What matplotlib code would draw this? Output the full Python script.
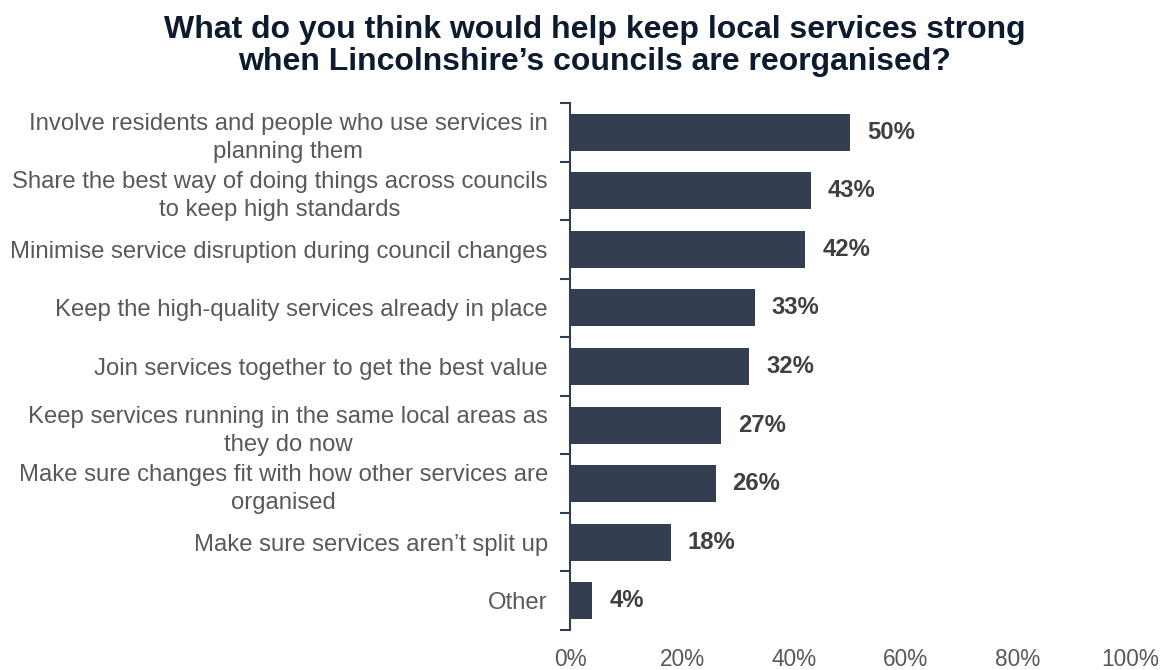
import matplotlib
matplotlib.use("Agg")
import matplotlib.pyplot as plt
import numpy as np

plt.rcParams['font.family'] = ['Liberation Sans', 'DejaVu Sans']

categories = [
    "Involve residents and people who use services in\nplanning them",
    "Share the best way of doing things across councils\nto keep high standards",
    "Minimise service disruption during council changes",
    "Keep the high-quality services already in place",
    "Join services together to get the best value",
    "Keep services running in the same local areas as\nthey do now",
    "Make sure changes fit with how other services are\norganised",
    "Make sure services aren\u2019t split up",
    "Other",
]
values = [50, 43, 42, 33, 32, 27, 26, 18, 4]
x_ticks = [0, 20, 40, 60, 80, 100]
x_tick_labels = ["0%", "20%", "40%", "60%", "80%", "100%"]
title = ("What do you think would help keep local services strong\n"
         "when Lincolnshire\u2019s councils are reorganised?")

bar_color = "#333e50"
label_color = "#595959"
value_color = "#404040"
title_color = "#0d1b2e"

fig = plt.figure(figsize=(11.7, 6.7), dpi=100)
ax = fig.add_axes([570 / 1170, 1 - 630 / 670, 560 / 1170, 527 / 670])

y = np.arange(len(categories))
ax.barh(y, values, height=0.63, color=bar_color)
ax.set_ylim(len(categories) - 0.5, -0.5)
ax.set_xlim(0, 100)

# category labels, centred lines within a right-aligned block
ax.set_yticks(y)
ax.set_yticklabels(categories, fontsize=17.2, color=label_color,
                   multialignment='center', linespacing=1.35)
ax.tick_params(axis='y', which='major', length=0, pad=16)
ax.set_yticks(np.arange(-0.5, len(categories), 1.0), minor=True)
ax.tick_params(axis='y', which='minor', length=7, width=1.5, color=bar_color)

ax.set_xticks(x_ticks)
ax.set_xticklabels(x_tick_labels, fontsize=16.3, color=label_color)
ax.tick_params(axis='x', length=0, pad=13)

for s in ['top', 'right', 'bottom']:
    ax.spines[s].set_visible(False)
ax.spines['left'].set_color(bar_color)
ax.spines['left'].set_linewidth(1.5)

for yi, v in zip(y, values):
    ax.annotate(f"{v}%", (v, yi), xytext=(17, 0), textcoords='offset pixels',
                ha='left', va='center', fontsize=17.2, fontweight='bold',
                color=value_color)

fig.text(0.508, 1 - 46 / 670, title, ha='center', va='center', fontsize=23,
         fontweight='bold', color=title_color, linespacing=1.05)

fig.savefig("out.png", dpi=100)
